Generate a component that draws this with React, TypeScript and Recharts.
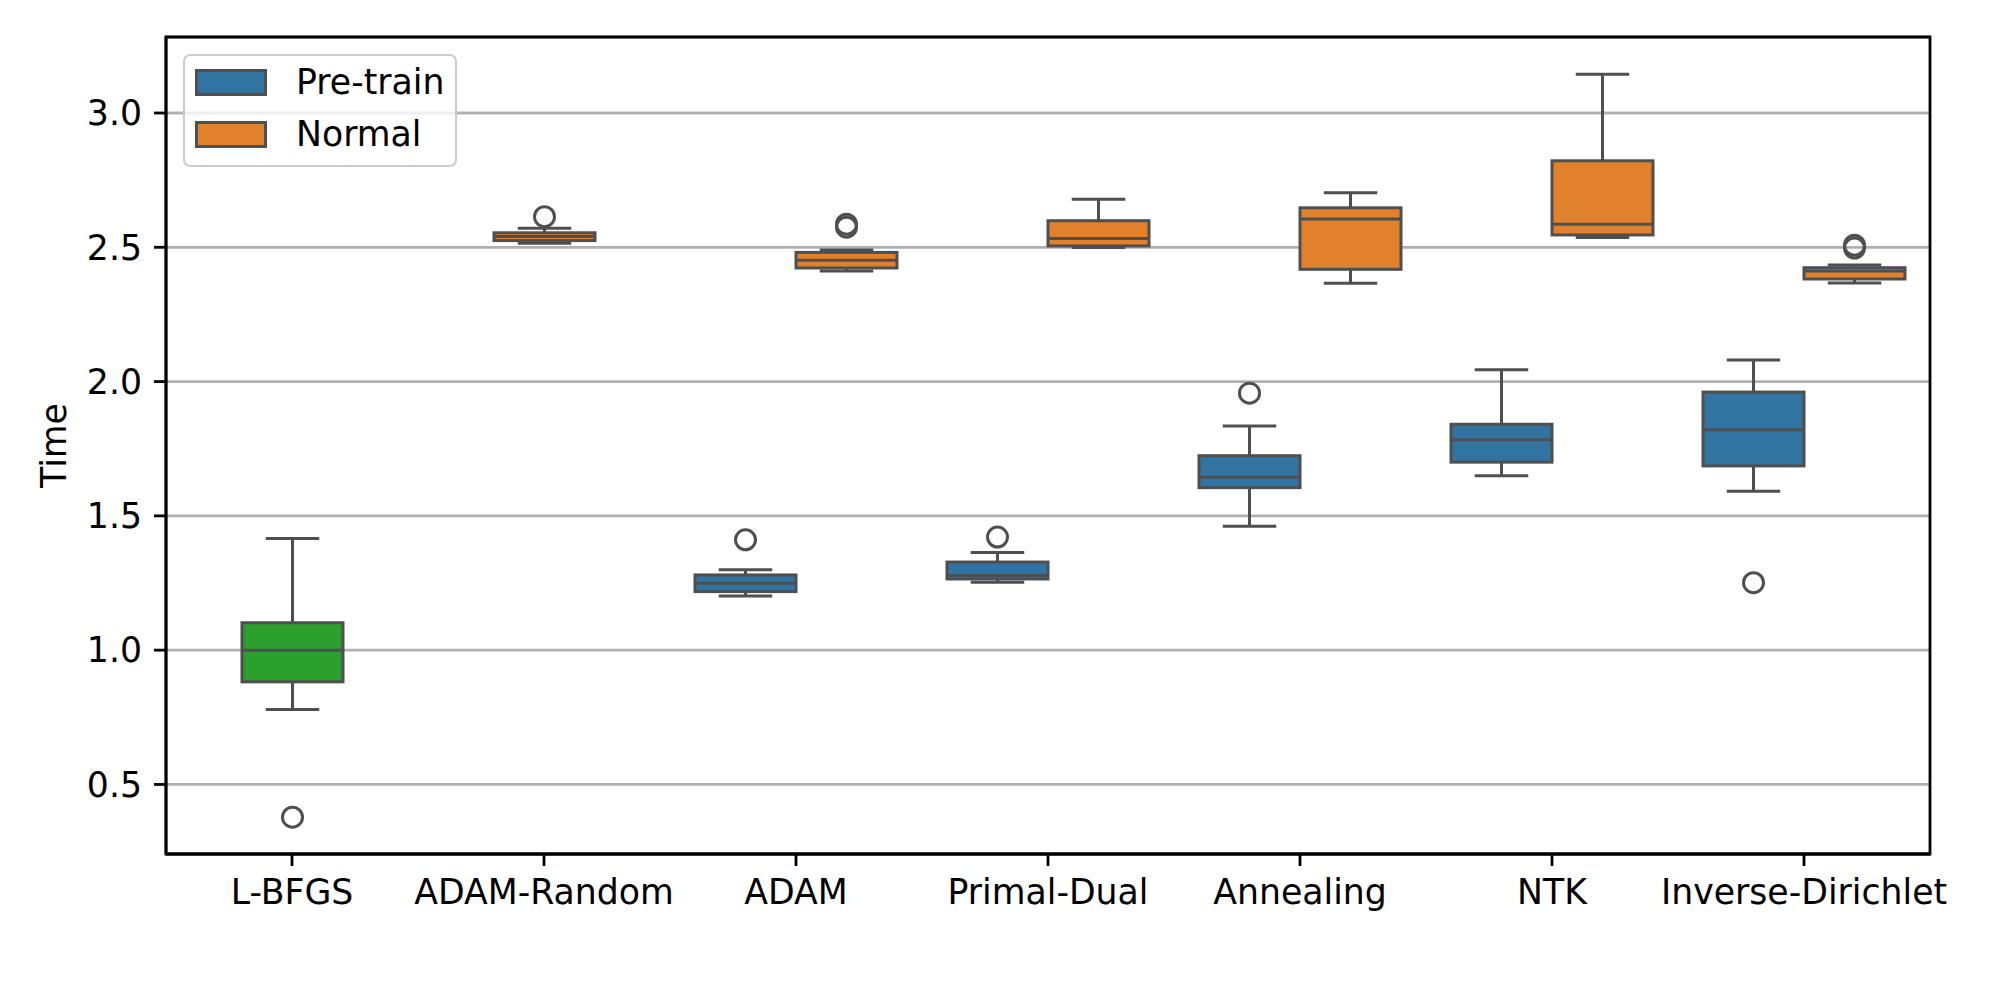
import React from 'react';
import { ComposedChart, Bar, XAxis, YAxis, CartesianGrid, Legend, ReferenceArea } from 'recharts';

// ---------- data ----------
const categories = ['L-BFGS', 'ADAM-Random', 'ADAM', 'Primal-Dual', 'Annealing', 'NTK', 'Inverse-Dirichlet'];

// Pre-train (dodged left)
const preMin = [null, null, 1.202, 1.253, 1.461, 1.649, 1.592];
const preQ1 = [null, null, 1.218, 1.265, 1.605, 1.700, 1.686];
const preMed = [null, null, 1.249, 1.278, 1.644, 1.783, 1.821];
const preQ3 = [null, null, 1.280, 1.328, 1.724, 1.841, 1.961];
const preMax = [null, null, 1.299, 1.364, 1.835, 2.044, 2.080];
const preOut = [[], [], [1.411], [1.421], [1.957], [], [1.251]];

// Normal (dodged right)
const normMin = [null, null, 2.412, 2.499, 2.366, 2.536, 2.367];
const normQ1 = [null, null, 2.423, 2.505, 2.418, 2.546, 2.382];
const normMed = [null, null, 2.452, 2.533, 2.605, 2.586, 2.412];
const normQ3 = [null, null, 2.481, 2.599, 2.647, 2.822, 2.424];
const normMax = [null, null, 2.490, 2.679, 2.703, 3.144, 2.434];
const normOut = [[], [], [2.575, 2.586], [], [], [], [2.497, 2.508]];

// Single, centred boxes
const singleHue = ['L-BFGS', 'Normal', null, null, null, null, null];
const singleMin = [0.779, 2.515, null, null, null, null, null];
const singleQ1 = [0.882, 2.525, null, null, null, null, null];
const singleMed = [1.0, 2.540, null, null, null, null, null];
const singleQ3 = [1.102, 2.554, null, null, null, null, null];
const singleMax = [1.416, 2.571, null, null, null, null, null];
const singleOut = [[0.378], [2.614], [], [], [], [], []];

const yDomain = [0.241, 3.283];
const yTicks = [0.5, 1.0, 1.5, 2.0, 2.5, 3.0];
const legendLabels = ['Pre-train', 'Normal'];

// ---------- styles ----------
const HUE_COLORS: Record<string, string> = {
  'Pre-train': '#3274a1',
  Normal: '#e1812c',
  'L-BFGS': '#2ca02c',
};
const LINE = '#4f4f4f';
const FONT = '"DejaVu Sans", Verdana, sans-serif';
const FS = 34.7;
const LW = 3;

type Stats = { min: number; q1: number; med: number; q3: number; max: number; out: number[]; color: string } | null;

const mk = (i: number, mn: any[], q1: any[], md: any[], q3: any[], mx: any[], out: number[][], color: string | null): Stats =>
  q1[i] == null || !color
    ? null
    : { min: mn[i], q1: q1[i], med: md[i], q3: q3[i], max: mx[i], out: out[i], color };

const rows = categories.map((name, i) => {
  const preStats = mk(i, preMin, preQ1, preMed, preQ3, preMax, preOut, HUE_COLORS['Pre-train']);
  const normStats = mk(i, normMin, normQ1, normMed, normQ3, normMax, normOut, HUE_COLORS['Normal']);
  const sh = singleHue[i];
  const singleStats = mk(i, singleMin, singleQ1, singleMed, singleQ3, singleMax, singleOut, sh ? HUE_COLORS[sh] : null);
  return {
    name,
    pre: preStats ? [preStats.q1, preStats.q3] : null,
    norm: normStats ? [normStats.q1, normStats.q3] : null,
    single: singleStats ? [singleStats.q1, singleStats.q3] : null,
    preStats,
    normStats,
    singleStats,
  };
});

const boxShape = (key: 'preStats' | 'normStats' | 'singleStats') => (props: any) => {
  const { x, y, width, height, payload } = props;
  const s: Stats = payload ? payload[key] : null;
  if (!s || !isFinite(y) || !isFinite(height) || !isFinite(x)) return <g />;
  const top = Math.min(y, y + height);
  const h = Math.abs(height);
  const k = h / (s.q3 - s.q1);
  const py = (v: number) => top + (s.q3 - v) * k;
  const cx = x + width / 2;
  const cap = width / 4;
  const ls = { stroke: LINE, strokeWidth: LW, strokeLinecap: 'square' as const };
  return (
    <g>
      <line x1={cx} x2={cx} y1={py(s.q3)} y2={py(s.max)} {...ls} strokeLinecap="butt" />
      <line x1={cx} x2={cx} y1={py(s.q1)} y2={py(s.min)} {...ls} strokeLinecap="butt" />
      <line x1={cx - cap} x2={cx + cap} y1={py(s.max)} y2={py(s.max)} {...ls} />
      <line x1={cx - cap} x2={cx + cap} y1={py(s.min)} y2={py(s.min)} {...ls} />
      <rect x={x} y={top} width={width} height={h} fill={s.color} stroke={LINE} strokeWidth={LW} />
      <line x1={x} x2={x + width} y1={py(s.med)} y2={py(s.med)} stroke={LINE} strokeWidth={LW} />
      {s.out.map((v, j) => (
        <circle key={j} cx={cx} cy={py(v)} r={10} fill="none" stroke={LINE} strokeWidth={LW} />
      ))}
    </g>
  );
};

const renderLegend = () => (
  <div
    style={{
      boxSizing: 'border-box',
      width: 274,
      height: 113,
      border: '2.8px solid #cccccc',
      borderRadius: 7,
      background: 'rgba(255,255,255,0.8)',
      fontFamily: FONT,
      fontSize: FS,
      color: '#000',
    }}
  >
    {legendLabels.map((lab) => (
      <div key={lab} style={{ height: 52, display: 'flex', alignItems: 'center' }}>
        <div
          style={{
            boxSizing: 'border-box',
            width: 72,
            height: 27,
            marginLeft: 10,
            border: `3px solid ${LINE}`,
            background: HUE_COLORS[lab],
          }}
        />
        <span style={{ marginLeft: 29, lineHeight: 1 }}>{lab}</span>
      </div>
    ))}
  </div>
);

const tickStyle = { fontSize: FS, fill: '#000', fontFamily: FONT };
const axisLine = { stroke: '#000', strokeWidth: 2.8 };

export default function App() {
  return (
    <div style={{ width: 1992, height: 992, background: '#fff' }}>
      <ComposedChart
        width={1992}
        height={992}
        data={rows}
        margin={{ top: 29, right: 70, bottom: 86, left: 0 }}
        barGap={0}
      >
        <CartesianGrid vertical={false} stroke="#b0b0b0" strokeWidth={2.8} />
        <XAxis
          dataKey="name"
          axisLine={axisLine}
          tickLine={axisLine}
          tickSize={12}
          tickMargin={13}
          tick={tickStyle}
          height={60}
          interval={0}
        />
        <XAxis xAxisId="single" dataKey="name" hide />
        <YAxis
          type="number"
          domain={yDomain}
          allowDataOverflow
          ticks={yTicks}
          tickFormatter={(v: number) => v.toFixed(1)}
          axisLine={axisLine}
          tickLine={axisLine}
          tickSize={12}
          tickMargin={12}
          tick={tickStyle}
          width={158}
          label={{
            content: (p: any) => {
              const vb = p.viewBox || { x: 0, y: 29, width: 158, height: 817 };
              const lx = vb.x + 46;
              const ly = vb.y + vb.height / 2;
              return (
                <text
                  x={lx}
                  y={ly}
                  transform={`rotate(-90, ${lx}, ${ly})`}
                  textAnchor="middle"
                  dominantBaseline="central"
                  fontFamily={FONT}
                  fontSize={FS}
                  fill="#000"
                >
                  Time
                </text>
              );
            },
          }}
        />
        <Legend
          layout="vertical"
          align="center"
          verticalAlign="middle"
          content={renderLegend}
          wrapperStyle={{ left: 175, top: 46, width: 'auto', height: 'auto' }}
        />
        <Bar dataKey="pre" name="Pre-train" barSize={101} isAnimationActive={false} shape={boxShape('preStats')} />
        <Bar dataKey="norm" name="Normal" barSize={101} isAnimationActive={false} shape={boxShape('normStats')} />
        <Bar dataKey="single" xAxisId="single" name="single" barSize={101} isAnimationActive={false} shape={boxShape('singleStats')} />
        <ReferenceArea
          x1={categories[0]}
          x2={categories[categories.length - 1]}
          y1={yDomain[0]}
          y2={yDomain[1]}
          ifOverflow="visible"
          fill="none"
          fillOpacity={0}
          stroke="#000"
          strokeWidth={2.8}
        />
      </ComposedChart>
    </div>
  );
}
